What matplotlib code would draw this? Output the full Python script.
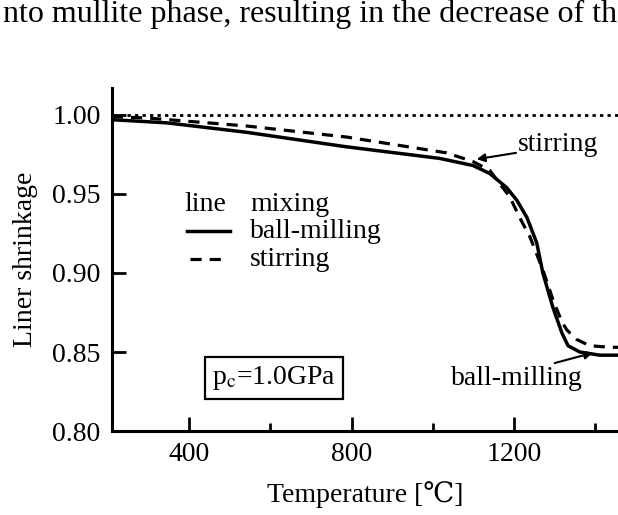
import matplotlib
matplotlib.use("Agg")
import matplotlib.pyplot as plt
from matplotlib.ticker import MultipleLocator, FormatStrFormatter

plt.rcParams["font.family"] = ["Liberation Serif", "DejaVu Serif"]
plt.rcParams["mathtext.fontset"] = "stix"

# linear shrinkage vs sintering temperature (p_c = 1.0 GPa)
temp_ball = [210, 345, 542, 783, 1017, 1099, 1140, 1182, 1207, 1232, 1256,
             1271, 1296, 1318, 1333, 1362, 1411, 1443, 1456]
shrink_ball = [0.997, 0.995, 0.989, 0.980, 0.9725, 0.968, 0.963, 0.954, 0.946,
               0.935, 0.919, 0.900, 0.878, 0.862, 0.854, 0.850, 0.848, 0.848, 0.848]
temp_stir = [210, 300, 542, 788, 1034, 1099, 1140, 1190, 1214, 1239, 1271,
             1296, 1318, 1330, 1354, 1386, 1436, 1456]
shrink_stir = [0.999, 0.998, 0.993, 0.986, 0.976, 0.9705, 0.965, 0.948, 0.935,
               0.923, 0.902, 0.883, 0.869, 0.864, 0.858, 0.854, 0.853, 0.853]
ref_level = 1.00

fig = plt.figure(figsize=(6.18, 5.15), dpi=100)
fig.text(0.005, 0.972, "nto mullite phase, resulting in the decrease of th",
         fontsize=23, va="center", ha="left")

ax = fig.add_axes([0.181, 0.163, 0.819, 0.666])
ax.axhline(ref_level, color="black", lw=2.0, ls=(0, (1.2, 1.5)))
ax.plot(temp_stir, shrink_stir, color="black", lw=2.3, ls=(0, (3.5, 2.5)))
ax.plot(temp_ball, shrink_ball, color="black", lw=2.5)

ax.set_xlim(210, 1456)
ax.set_ylim(0.80, 1.017)
ax.set_xticks([400, 800, 1200])
ax.xaxis.set_minor_locator(MultipleLocator(200))
ax.set_yticks([0.80, 0.85, 0.90, 0.95, 1.00])
ax.yaxis.set_major_formatter(FormatStrFormatter("%.2f"))
for s in ["top", "right"]:
    ax.spines[s].set_visible(False)
for s in ["left", "bottom"]:
    ax.spines[s].set_linewidth(2.2)
ax.tick_params(axis="both", which="major", direction="in", length=10, width=2,
               labelsize=20, pad=8)
ax.tick_params(axis="x", which="minor", direction="in", length=6, width=2)
ax.tick_params(axis="y", which="minor", length=0)

ax.set_xlabel("Temperature [℃]", fontsize=20, labelpad=10)
ax.set_ylabel("Liner shrinkage", fontsize=20, labelpad=10)

# legend drawn by hand
ax.text(388, 0.9435, "line", fontsize=20, va="center")
ax.text(550, 0.9435, "mixing", fontsize=20, va="center")
ax.plot([395, 500], [0.9265, 0.9265], color="black", lw=2.5)
ax.text(550, 0.926, "ball-milling", fontsize=20, va="center")
ax.plot([402, 480], [0.909, 0.909], color="black", lw=2.3, ls=(0, (3.5, 2.5)))
ax.text(550, 0.9085, "stirring", fontsize=20, va="center")

ax.text(1210, 0.9815, "stirring", fontsize=20, va="center")
ax.annotate("", xy=(1108, 0.972), xytext=(1205, 0.976),
            arrowprops=dict(arrowstyle="-|>", color="black", lw=1.5,
                            mutation_scale=12, shrinkA=0, shrinkB=0))
ax.text(1207, 0.8335, "ball-milling", fontsize=20, va="center", ha="center")
ax.annotate("", xy=(1394, 0.8495), xytext=(1300, 0.843),
            arrowprops=dict(arrowstyle="-|>", color="black", lw=1.5,
                            mutation_scale=12, shrinkA=0, shrinkB=0))

ax.text(609, 0.8335, r"p$_{\mathrm{c}}$=1.0GPa", fontsize=20, va="center",
        ha="center",
        bbox=dict(boxstyle="square,pad=0.25", fc="white", ec="black", lw=1.6))

fig.savefig("out.png", dpi=100)
